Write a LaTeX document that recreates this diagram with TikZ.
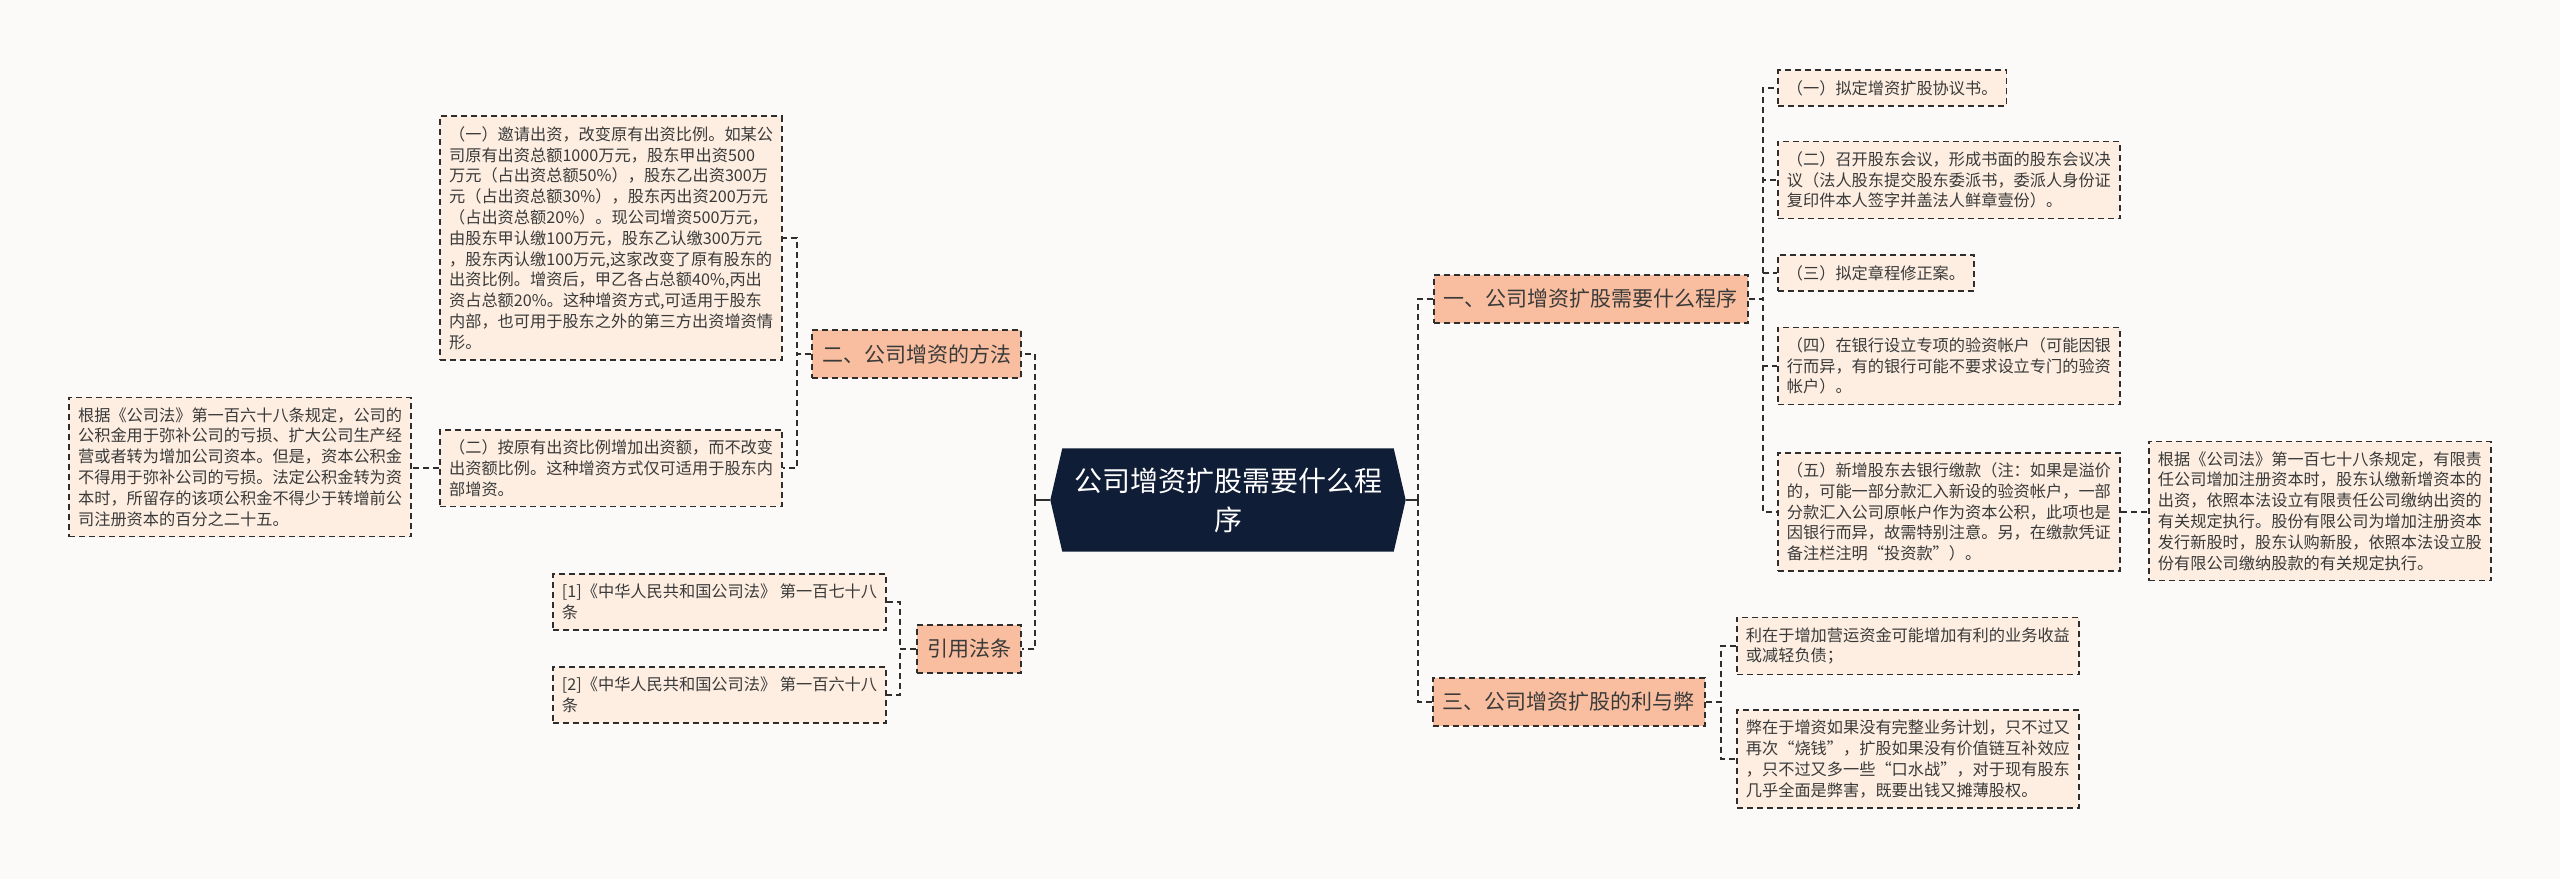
\documentclass[tikz,border=0pt]{standalone}
\usepackage{fontspec}
\setmainfont{Noto Sans CJK SC}
\usetikzlibrary{calc}
\pgfdeclarelayer{bg}
\pgfsetlayers{bg,main}
\definecolor{bgc}{HTML}{FCFAF8}
\definecolor{navy}{HTML}{0F1D36}
\definecolor{headc}{HTML}{F9BE9F}
\definecolor{leafc}{HTML}{FDEEE1}
\definecolor{ink}{HTML}{3A3A3A}
\definecolor{edgec}{HTML}{2E2E2E}
\tikzset{
  dashline/.style={draw=edgec, line width=1.8pt, dash pattern=on 6pt off 4pt},
  headbox/.style={dashline, fill=headc, text=ink, font=\fontsize{21}{25}\selectfont, inner xsep=10pt, inner ysep=0pt, minimum height=48pt},
  leafbox/.style={dashline, fill=leafc, text=ink, font=\fontsize{16.2}{20.8}\selectfont, align=left, inner xsep=9pt, inner ysep=10pt},
  conn/.style={dashline},
  trunk/.style={draw=edgec, line width=1.8pt},
}
\begin{document}
\begin{tikzpicture}[x=1pt,y=-1pt]
\useasboundingbox (0,0) rectangle (2560,879);

% central node
\node[text=white, font=\fontsize{28}{39}\selectfont, align=center, minimum width=331pt, minimum height=103pt, inner sep=0pt] (c) at (1228,500) {公司增资扩股需要什么程\\序};
\begin{pgfonlayer}{bg}
\fill[bgc] (0,0) rectangle (2560,879);
\fill[navy] (c.north west) -- (c.north east) -- ([xshift=12pt]c.east) -- (c.south east) -- (c.south west) -- ([xshift=-12pt]c.west) -- cycle;
\end{pgfonlayer}

% main branches
\node[headbox, anchor=west] (m1) at (1433,299) {一、公司增资扩股需要什么程序};
\node[headbox, anchor=west] (m4) at (1432,702) {三、公司增资扩股的利与弊};
\node[headbox, anchor=east] (m2) at (1022,354) {二、公司增资的方法};
\node[headbox, anchor=east] (m3) at (1022,649) {引用法条};

% left leaves
\node[leafbox, anchor=east] (a1) at (783,238) {（一）邀请出资，改变原有出资比例。如某公\\司原有出资总额1000万元，股东甲出资500\\万元（占出资总额50\%），股东乙出资300万\\元（占出资总额30\%），股东丙出资200万元\\（占出资总额20\%）。现公司增资500万元，\\由股东甲认缴100万元，股东乙认缴300万元\\，股东丙认缴100万元,这家改变了原有股东的\\出资比例。增资后，甲乙各占总额40\%,丙出\\资占总额20\%。这种增资方式,可适用于股东\\内部，也可用于股东之外的第三方出资增资情\\形。};
\node[leafbox, anchor=east] (a2) at (783,468) {（二）按原有出资比例增加出资额，而不改变\\出资额比例。这种增资方式仅可适用于股东内\\部增资。};
\node[leafbox, anchor=east] (a3) at (412,467) {根据《公司法》第一百六十八条规定，公司的\\公积金用于弥补公司的亏损、扩大公司生产经\\营或者转为增加公司资本。但是，资本公积金\\不得用于弥补公司的亏损。法定公积金转为资\\本时，所留存的该项公积金不得少于转增前公\\司注册资本的百分之二十五。};
\node[leafbox, anchor=east] (r1) at (887,602) {[1]《中华人民共和国公司法》 第一百七十八\\条};
\node[leafbox, anchor=east] (r2) at (887,695) {[2]《中华人民共和国公司法》 第一百六十八\\条};

% right leaves
\node[leafbox, anchor=west] (b1) at (1777,88) {（一）拟定增资扩股协议书。};
\node[leafbox, anchor=west] (b2) at (1777,180) {（二）召开股东会议，形成书面的股东会议决\\议（法人股东提交股东委派书，委派人身份证\\复印件本人签字并盖法人鲜章壹份）。};
\node[leafbox, anchor=west] (b3) at (1777,273) {（三）拟定章程修正案。};
\node[leafbox, anchor=west] (b4) at (1777,366) {（四）在银行设立专项的验资帐户（可能因银\\行而异，有的银行可能不要求设立专门的验资\\帐户）。};
\node[leafbox, anchor=west] (b5) at (1777,512) {（五）新增股东去银行缴款（注：如果是溢价\\的，可能一部分款汇入新设的验资帐户，一部\\分款汇入公司原帐户作为资本公积，此项也是\\因银行而异，故需特别注意。另，在缴款凭证\\备注栏注明“投资款”）。};
\node[leafbox, anchor=west] (b6) at (2148,511) {根据《公司法》第一百七十八条规定，有限责\\任公司增加注册资本时，股东认缴新增资本的\\出资，依照本法设立有限责任公司缴纳出资的\\有关规定执行。股份有限公司为增加注册资本\\发行新股时，股东认购新股，依照本法设立股\\份有限公司缴纳股款的有关规定执行。};
\node[leafbox, anchor=west] (c1) at (1736,646) {利在于增加营运资金可能增加有利的业务收益\\或减轻负债；};
\node[leafbox, anchor=west] (c2) at (1736,759) {弊在于增资如果没有完整业务计划，只不过又\\再次“烧钱”，扩股如果没有价值链互补效应\\，只不过又多一些“口水战”，对于现有股东\\几乎全面是弊害，既要出钱又摊薄股权。};

% connectors from centre
\draw[trunk] ([xshift=-12pt]c.west) -- ++(-15,0) coordinate (tl);
\draw[conn] (tl) |- (m2.east);
\draw[conn] (tl) |- (m3.east);
\draw[trunk] ([xshift=12pt]c.east) -- ++(12,0) coordinate (tr);
\draw[conn] (tr) |- (m1.west);
\draw[conn] (tr) |- (m4.west);

% branch connectors
\draw[conn] (m2.west) -- ++(-14,0) |- (a1.east);
\draw[conn] (m2.west) -- ++(-14,0) |- (a2.east);
\draw[conn] (a2.west) -- (a2.west -| a3.east);
\draw[conn] (m3.west) -- ++(-16,0) |- (r1.east);
\draw[conn] (m3.west) -- ++(-16,0) |- (r2.east);
\foreach \k in {b1,b2,b3,b4,b5}{
  \draw[conn] (m1.east) -- ++(14,0) |- (\k.west);
}
\draw[conn] (b5.east) -- (b5.east -| b6.west);
\draw[conn] (m4.east) -- ++(15,0) |- (c1.west);
\draw[conn] (m4.east) -- ++(15,0) |- (c2.west);
\end{tikzpicture}
\end{document}
